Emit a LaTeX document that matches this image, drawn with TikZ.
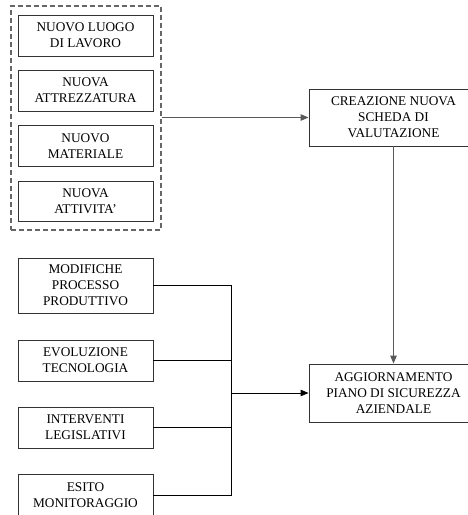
\documentclass[tikz,border=0pt]{standalone}
\usepackage{fontspec}
\setmainfont{Liberation Serif}
\usetikzlibrary{arrows.meta}
\begin{document}
\begin{tikzpicture}[x=1pt,y=-1pt,
  box/.style={draw=black!80, line width=0.9pt, align=center, inner sep=0pt,
    font=\fontsize{13.3}{16}\selectfont, fill=white},
  grp/.style={draw=black!60, line width=1.2pt, dash pattern=on 5pt off 3pt},
  conn/.style={draw=black!65, line width=1.1pt},
  bus/.style={draw=black, line width=0.9pt},
  tip/.style={-{Triangle[length=8pt,width=6.5pt]}}
]
\useasboundingbox (0,0) rectangle (468,515);
% dashed group
\node[grp, minimum width=150pt, minimum height=224pt, inner sep=0pt] (group) at (86,118) {};
\node[box, minimum width=135pt, minimum height=41pt] (b1) at (85.5,35.5) {NUOVO LUOGO\\DI LAVORO};
\node[box, minimum width=135pt, minimum height=41pt] (b2) at (85.5,90.5) {NUOVA\\ATTREZZATURA};
\node[box, minimum width=135pt, minimum height=41pt] (b3) at (85.5,146) {NUOVO\\MATERIALE};
\node[box, minimum width=135pt, minimum height=40pt] (b4) at (85.5,201) {NUOVA\\ATTIVITA'};
% lower left
\node[box, minimum width=135pt, minimum height=55pt] (mod) at (85.5,285.5) {MODIFICHE\\PROCESSO\\PRODUTTIVO};
\node[box, minimum width=135pt, minimum height=41pt] (evo) at (85.5,360.5) {EVOLUZIONE\\TECNOLOGIA};
\node[box, minimum width=135pt, minimum height=41pt] (int) at (85.5,427.5) {INTERVENTI\\LEGISLATIVI};
\node[box, minimum width=135pt, minimum height=42pt] (esi) at (85.5,495) {ESITO\\MONITORAGGIO};
% right
\node[box, minimum width=169pt, minimum height=57pt] (crea) at (393.5,117.5) {CREAZIONE NUOVA\\SCHEDA DI\\VALUTAZIONE};
\node[box, minimum width=169pt, minimum height=58pt] (agg) at (393.5,393) {AGGIORNAMENTO\\PIANO DI SICUREZZA\\AZIENDALE};
\coordinate (bus) at (231,0);
% connectors
\draw[conn, tip] (group.east |- crea.west) -- (crea.west);
\draw[conn, tip] (crea.south) -- (agg.north);
\draw[bus] (mod.east) -- (mod.east -| bus) -- (esi.east -| bus) -- (esi.east);
\draw[bus] (evo.east) -- (evo.east -| bus);
\draw[bus] (int.east) -- (int.east -| bus);
\draw[bus, tip] (agg.west -| bus) -- (agg.west);
\end{tikzpicture}
\end{document}
